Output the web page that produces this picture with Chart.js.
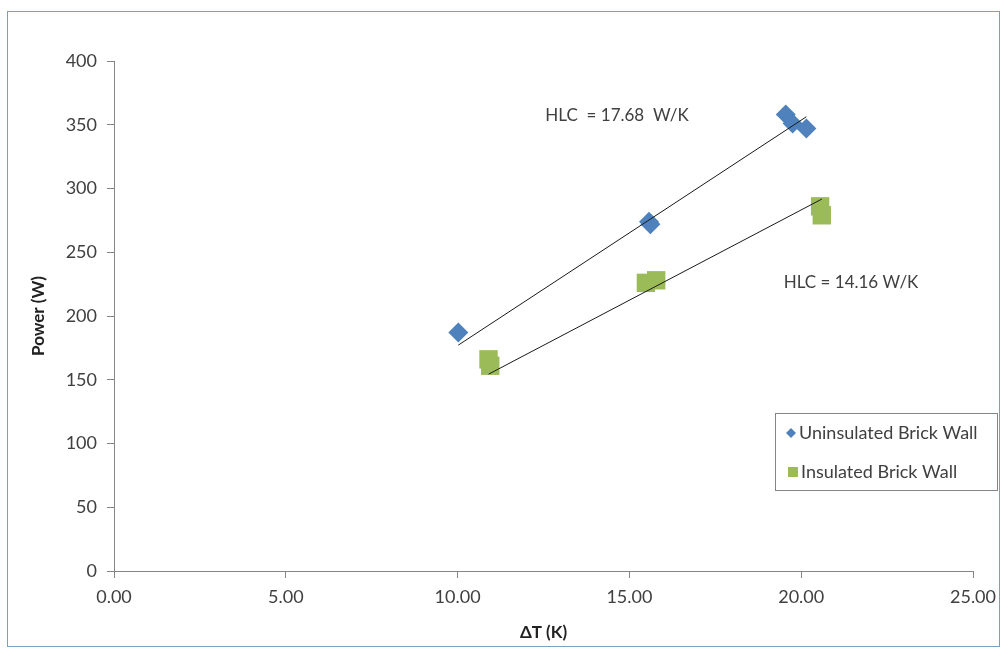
<!DOCTYPE html>
<html>
<head>
<meta charset="utf-8">
<script src="https://cdn.jsdelivr.net/npm/chart.js@4.4.0/dist/chart.umd.min.js"></script>
<style>
  html, body { margin: 0; padding: 0; background: #fff; }
  #wrap { width: 1005px; height: 651px; position: relative; }
</style>
</head>
<body>
<div id="wrap"><canvas id="chart" width="1005" height="651"></canvas></div>
<script>
// values
var uninsulatedX = [10.02, 15.57, 15.61, 19.55, 19.75, 20.15];
var uninsulatedY = [187, 274, 272, 358, 351, 347];
var insulatedX = [10.9, 10.95, 15.48, 15.78, 20.55, 20.6];
var insulatedY = [166, 161, 226, 228, 286, 279];

var seriesNames = ["Uninsulated Brick Wall", "Insulated Brick Wall"];
var hlcValues = [17.68, 14.16];          // slope of each fitted line (W/K)
var hlcLabels = ["HLC  = 17.68  W/K", "HLC = 14.16 W/K"];
var hlcLabelX = [14.64, 21.45];          // label anchor in data units
var hlcLabelY = [357, 226];

var xTicks = [0, 5, 10, 15, 20, 25];
var yTicks = [0, 50, 100, 150, 200, 250, 300, 350, 400];

var blue = "#4F81BD";
var green = "#9BBB59";
var axisGrey = "#868686";
var textGrey = "#404040";
var fontFamily = "Lato, 'Open Sans', sans-serif";

function toPoints(xs, ys) {
  var pts = [];
  for (var i = 0; i < xs.length; i++) pts.push({ x: xs[i], y: ys[i] });
  return pts;
}

// trend line through origin with slope = HLC, over the range of the series
function trendLine(xs, slope) {
  var lo = Math.min.apply(null, xs);
  var hi = Math.max.apply(null, xs);
  return [{ x: lo, y: slope * lo }, { x: hi, y: slope * hi }];
}

var extras = {
  id: "extras",
  beforeDraw: function (chart) {
    var ctx = chart.ctx;
    ctx.save();
    ctx.fillStyle = "#fff";
    ctx.fillRect(0, 0, chart.width, chart.height);
    ctx.strokeStyle = "#7F9DBF";
    ctx.lineWidth = 1;
    ctx.strokeRect(7.5, 11.5, 992, 635);
    ctx.restore();
  },
  afterDraw: function (chart) {
    var ctx = chart.ctx;
    var xs = chart.scales.x, ys = chart.scales.y;
    ctx.save();
    // HLC labels
    ctx.font = "17px " + fontFamily;
    ctx.fillStyle = textGrey;
    ctx.textAlign = "center";
    ctx.textBaseline = "middle";
    for (var i = 0; i < hlcLabels.length; i++) {
      ctx.fillText(hlcLabels[i], xs.getPixelForValue(hlcLabelX[i]), ys.getPixelForValue(hlcLabelY[i]));
    }
    // legend box
    var lx = 775, ly = 413, lw = 222, lh = 77;
    ctx.fillStyle = "#fff";
    ctx.fillRect(lx, ly, lw, lh);
    ctx.strokeStyle = axisGrey;
    ctx.strokeRect(lx + 0.5, ly + 0.5, lw, lh);
    ctx.font = "18px " + fontFamily;
    ctx.textAlign = "left";
    // diamond
    var dy = ly + 20;
    ctx.fillStyle = blue;
    ctx.beginPath();
    ctx.moveTo(lx + 16, dy - 5);
    ctx.lineTo(lx + 21, dy);
    ctx.lineTo(lx + 16, dy + 5);
    ctx.lineTo(lx + 11, dy);
    ctx.closePath();
    ctx.fill();
    ctx.fillStyle = textGrey;
    ctx.fillText(seriesNames[0], lx + 24, dy);
    // square
    var sy = ly + 59;
    ctx.fillStyle = green;
    ctx.fillRect(lx + 13, sy - 5, 10, 10);
    ctx.fillStyle = textGrey;
    ctx.fillText(seriesNames[1], lx + 26, sy);
    ctx.restore();
  }
};

new Chart(document.getElementById("chart"), {
  type: "scatter",
  data: {
    datasets: [
      {
        label: seriesNames[0] + " fit",
        type: "line",
        data: trendLine(uninsulatedX, hlcValues[0]),
        borderColor: "#1a1a1a",
        borderWidth: 1,
        pointRadius: 0,
        fill: false
      },
      {
        label: seriesNames[1] + " fit",
        type: "line",
        data: trendLine(insulatedX, hlcValues[1]),
        borderColor: "#1a1a1a",
        borderWidth: 1,
        pointRadius: 0,
        fill: false
      },
      {
        label: seriesNames[0],
        data: toPoints(uninsulatedX, uninsulatedY),
        pointStyle: "rectRot",
        pointRadius: 10,
        backgroundColor: blue,
        borderColor: blue,
        borderWidth: 0
      },
      {
        label: seriesNames[1],
        data: toPoints(insulatedX, insulatedY),
        pointStyle: "rect",
        pointRadius: 13,
        backgroundColor: green,
        borderColor: green,
        borderWidth: 0
      }
    ]
  },
  options: {
    responsive: false,
    animation: false,
    layout: { padding: { left: 0, right: 32, top: 61, bottom: 0 } },
    plugins: {
      legend: { display: false },
      tooltip: { enabled: false }
    },
    scales: {
      x: {
        type: "linear",
        min: xTicks[0],
        max: xTicks[xTicks.length - 1],
        afterBuildTicks: function (scale) {
          scale.ticks = xTicks.map(function (v) { return { value: v }; });
        },
        afterFit: function (scale) { scale.height = 80; },
        grid: { display: true, drawOnChartArea: false, drawTicks: true, tickLength: 7, color: axisGrey },
        border: { display: true, color: axisGrey, width: 1 },
        ticks: {
          padding: 8,
          color: textGrey,
          font: { family: fontFamily, size: 18 },
          callback: function (v) { return Number(v).toFixed(2); }
        },
        title: {
          display: true,
          text: "ΔT (K)",
          color: "#222",
          font: { family: fontFamily, size: 17, weight: "bold" },
          padding: { top: 0, bottom: 8 }
        }
      },
      y: {
        type: "linear",
        min: yTicks[0],
        max: yTicks[yTicks.length - 1],
        afterBuildTicks: function (scale) {
          scale.ticks = yTicks.map(function (v) { return { value: v }; });
        },
        afterFit: function (scale) { scale.width = 114; },
        grid: { display: true, drawOnChartArea: false, drawTicks: true, tickLength: 7, color: axisGrey },
        border: { display: true, color: axisGrey, width: 1 },
        ticks: {
          padding: 10,
          color: textGrey,
          font: { family: fontFamily, size: 18 }
        },
        title: {
          display: true,
          text: "Power (W)",
          color: "#222",
          font: { family: fontFamily, size: 17, weight: "bold" },
          padding: { top: 28, bottom: 0 }
        }
      }
    }
  },
  plugins: [extras]
});
</script>
</body>
</html>
